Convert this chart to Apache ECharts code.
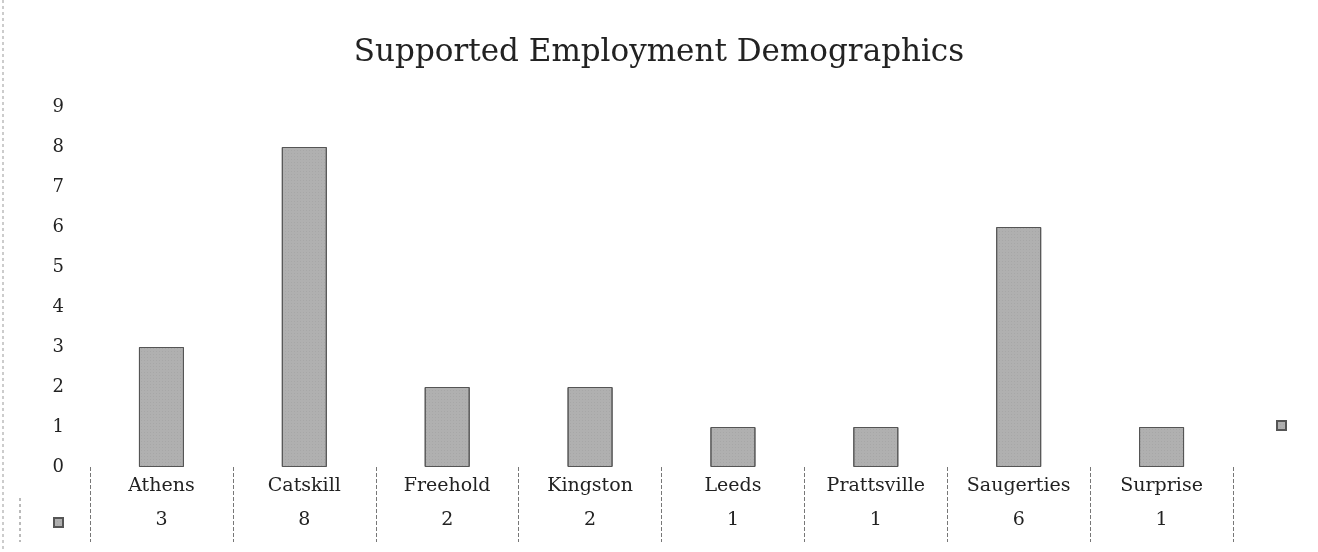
<!DOCTYPE html>
<html>
<head>
<meta charset="utf-8">
<script src="https://cdn.jsdelivr.net/npm/echarts@6/dist/echarts.min.js"></script>
<style>
  html, body { margin: 0; padding: 0; background: #fff; }
  #main { width: 1318px; height: 552px; }
</style>
</head>
<body>
<div id="main"></div>
<script>
const towns = ["Athens", "Catskill", "Freehold", "Kingston", "Leeds", "Prattsville", "Saugerties", "Surprise"];
const counts = [3, 8, 2, 2, 1, 1, 6, 1];
const seriesName = "Count";

var myChart = echarts.init(document.getElementById("main"));
var serif = "DejaVu Serif";

var option = {
    backgroundColor: "#fff",
    title: {
        text: "Supported Employment Demographics",
        left: "center",
        top: 32,
        textStyle: { fontFamily: serif, fontSize: 31, fontWeight: "normal", color: "#222" }
    },
    // two legend keys: one on the right, one in the data table row
    legend: [
        { right: 26, top: 415, itemWidth: 9, itemHeight: 9, icon: "rect", formatter: () => "", data: [seriesName] },
        { left: 48, top: 512, itemWidth: 9, itemHeight: 9, icon: "rect", formatter: () => "", data: [seriesName] }
    ],
    grid: { left: 90, right: 85, top: 107, bottom: 85 },
    xAxis: {
        type: "category",
        data: towns,
        axisLine: { show: false },
        axisTick: {
            show: true,
            length: 75,
            lineStyle: { color: "#777", type: "dashed", width: 1 }
        },
        axisLabel: {
            margin: 2,
            interval: 0,
            formatter: function (name, i) {
                return "{c|" + name + "}\n{v|" + counts[i] + "}";
            },
            rich: {
                c: { fontFamily: serif, fontSize: 19, color: "#222", lineHeight: 34 },
                v: { fontFamily: serif, fontSize: 19, color: "#222", lineHeight: 34 }
            }
        }
    },
    yAxis: {
        type: "value",
        min: 0,
        max: 9,
        interval: 1,
        splitLine: { show: false },
        axisLine: { show: false },
        axisTick: { show: false },
        axisLabel: { margin: 26, fontFamily: serif, fontSize: 18, color: "#222" }
    },
    series: [{
        name: seriesName,
        type: "bar",
        data: counts,
        barWidth: 45,
        itemStyle: {
            color: "#b0b0b0",
            borderColor: "#555",
            borderWidth: 1,
            decal: {
                symbol: "rect",
                symbolSize: 0.6,
                dashArrayX: [1, 2],
                dashArrayY: [1, 2],
                color: "rgba(90,90,90,0.35)",
                rotation: 0
            }
        }
    }],
    aria: { enabled: true, decal: { show: true } },
    graphic: [
        // left edge of the data table and the chart border
        { type: "line", shape: { x1: 20, y1: 498, x2: 20, y2: 542 }, style: { stroke: "#777", lineDash: [3, 3] } },
        { type: "line", shape: { x1: 3, y1: 0, x2: 3, y2: 552 }, style: { stroke: "#999", lineDash: [3, 3] } }
    ]
};
myChart.setOption(option);
</script>
</body>
</html>
